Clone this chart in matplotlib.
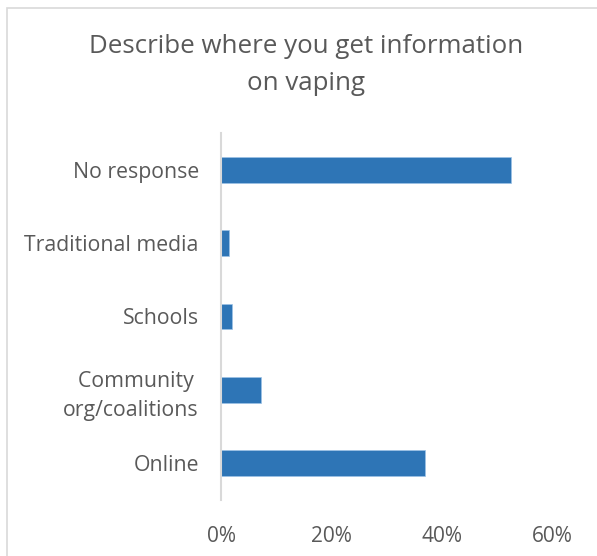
import matplotlib
matplotlib.use("Agg")
import matplotlib.pyplot as plt
from matplotlib.patches import Rectangle
from matplotlib.ticker import FuncFormatter

categories = ["Online", "Community \norg/coalitions", "Schools", "Traditional media", "No response"]
values = [36.9, 7.3, 2.0, 1.5, 52.5]
xticks = [0, 20, 40, 60]
title = "Describe where you get information\non vaping"

plt.rcParams['font.family'] = ['Open Sans', 'DejaVu Sans']
text_color = "#595959"

fig = plt.figure(figsize=(5.97, 5.56), dpi=100)
ax = fig.add_axes([221/597, 1-500/556, (552-221)/597, (500-133)/556])

ax.barh(range(len(categories)), values, height=0.35, color="#2E75B6", edgecolor="#9DC3E6", linewidth=0.5)
ax.set_xlim(0, 60)
ax.set_ylim(-0.5, len(categories) - 0.5)
ax.set_yticks(range(len(categories)))
ax.set_yticklabels(categories, fontsize=15.3, color=text_color, linespacing=1.45)
ax.set_xticks(xticks)
ax.xaxis.set_major_formatter(FuncFormatter(lambda v, p: f"{int(v)}%"))
ax.tick_params(axis='x', length=0, pad=19, labelsize=15, labelcolor=text_color)
ax.tick_params(axis='y', length=0, pad=16)
for s in ["top", "right", "bottom"]:
    ax.spines[s].set_visible(False)
ax.spines["left"].set_color("#d9d9d9")
ax.spines["left"].set_linewidth(1.5)

fig.text(306/597, 1-65/556, title, ha="center", va="center", fontsize=18.6, color=text_color, linespacing=1.62)

fig.patches.append(Rectangle((7/597, -0.1), 1.2, 1 - 8/556 + 0.1, transform=fig.transFigure,
                             fill=False, edgecolor="#d9d9d9", linewidth=1.2))

fig.savefig("out.png", dpi=100)
